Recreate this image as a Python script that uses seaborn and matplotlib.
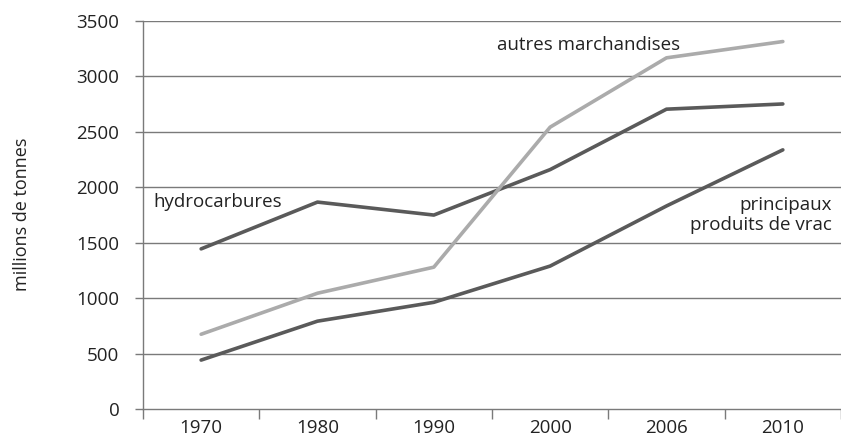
import matplotlib.pyplot as plt
import seaborn as sns
import pandas as pd
import numpy as np

years = ['1970', '1980', '1990', '2000', '2006', '2010']
hydrocarbures = [1445, 1867, 1750, 2160, 2705, 2752]
autres_marchandises = [675, 1045, 1280, 2543, 3168, 3315]
produits_vrac = [442, 793, 963, 1290, 1832, 2338]

series_names = ['hydrocarbures', 'autres marchandises', 'principaux produits de vrac']
series_colors = ['#5a5a5a', '#ababab', '#5a5a5a']

# long format table for seaborn
df = pd.DataFrame({
    'pos': list(range(len(years))) * 3,
    'valeur': hydrocarbures + autres_marchandises + produits_vrac,
    'serie': np.repeat(series_names, len(years)),
})

sns.set_style('white')
plt.rcParams['font.family'] = ['Open Sans', 'DejaVu Sans']

fig = plt.figure(figsize=(8.41, 4.38), dpi=100)
ax = fig.add_axes([0.170, 0.066, 0.830, 0.886])

# gridlines first so lines sit on top
for v in range(500, 3501, 500):
    ax.axhline(v, color='#7a7a7a', lw=1.0, zorder=1)

sns.lineplot(data=df, x='pos', y='valeur', hue='serie', hue_order=series_names,
             palette=series_colors, lw=2.6, legend=False, ax=ax, zorder=3)

ax.set_xlim(-0.5, 5.47)
ax.set_ylim(0, 3500)
ax.set_xlabel('')
ax.set_ylabel('')

# category axis: tick marks between categories, labels at centers
ax.set_xticks(np.arange(-0.5, len(years), 1.0))
ax.set_xticklabels([])
ax.set_xticks(range(len(years)), minor=True)
ax.set_xticklabels(years, minor=True)
ax.tick_params(axis='x', which='major', length=7, width=1, color='#7a7a7a', direction='out', bottom=True)
ax.tick_params(axis='x', which='minor', length=0, pad=7, labelsize=13.5, labelcolor='#222222')

ax.set_yticks(range(0, 3501, 500))
ax.tick_params(axis='y', length=6, width=1, color='#7a7a7a', direction='out', left=True,
               pad=11, labelsize=13.5, labelcolor='#222222')

for side in ['top', 'right']:
    ax.spines[side].set_visible(False)
for side in ['left', 'bottom']:
    ax.spines[side].set_color('#7a7a7a')
    ax.spines[side].set_linewidth(1.0)

fig.text(0.026, 0.51, 'millions de tonnes', rotation=90, ha='center', va='center',
         fontsize=13, color='#222222')

# series labels
ax.text(-0.41, 1870, 'hydrocarbures', fontsize=13.5, color='#222222', va='center')
ax.text(3.33, 3285, 'autres marchandises', fontsize=13.5, color='#222222', ha='center', va='center')
ax.text(5.42, 1750, 'principaux\nproduits de vrac', fontsize=13.5, color='#222222',
        ha='right', va='center', linespacing=1.2)

plt.savefig('out.png', dpi=100)
